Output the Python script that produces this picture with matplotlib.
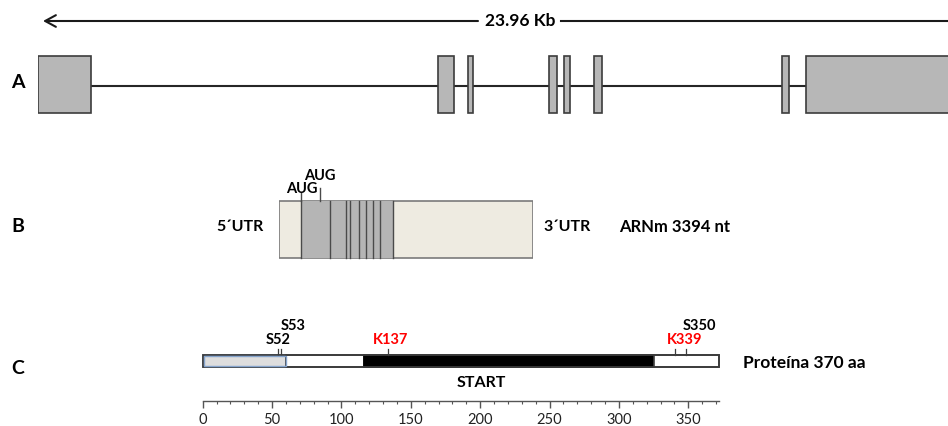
import matplotlib
matplotlib.use("Agg")
import matplotlib.pyplot as plt
from matplotlib.patches import Rectangle

plt.rcParams["font.family"] = ["Lato", "DejaVu Sans"]

W, H = 948, 426

# --- A: gene, exon starts / ends in kb ---
gene_len_kb = 23.96
exon_start = [0.00, 10.60, 11.40, 13.52, 13.92, 14.72, 19.71, 20.34]
exon_end = [1.40, 11.02, 11.51, 13.75, 14.10, 14.93, 19.88, 24.40]

# --- B: mRNA, positions in nt ---
mrna_len = 3394
cds_start, cds_end = 290, 1527
exon_bounds = [290, 681, 891, 949, 1069, 1162, 1260, 1349, 1527]
aug_pos = [290, 548]

# --- C: protein, positions in aa ---
prot_len = 370
prot_end = 372
segments = [(0, 60, "#dedede", "#7f9fca"), (60, 116, "white", "#404040"),
            (116, 325, "black", "black"), (325, 372, "white", "#404040")]
site_pos = [54.5, 56.5, 133.8, 340.4, 348.3]
site_names = ["S52", "S53", "K137", "K339", "S350"]
site_colors = ["black", "black", "red", "red", "black"]
site_label_x = [54.5, 65, 135.6, 347.6, 357.7]
site_label_row = [0, 1, 0, 0, 1]


def px_axes(left_px, right_px):
    """Axes covering full height (pixel y) and a px range in x."""
    ax = fig.add_axes([left_px / W, 0, (right_px - left_px) / W, 1])
    ax.set_ylim(H, 0)
    ax.axis("off")
    return ax


fig = plt.figure(figsize=(W / 100, H / 100), dpi=100)
bg = px_axes(0, W)
bg.set_xlim(0, W)

# panel letters
for lab, y in zip(["A", "B", "C"], [83, 226, 369]):
    bg.text(18, y, lab, fontsize=14, fontweight="bold", ha="center", va="center")

# ---------------- A ----------------
kb_px = 37.76
ga = px_axes(38, W)
ga.set_xlim(0, (W - 38) / kb_px)
ga.plot([0, exon_end[-1]], [85.5, 85.5], color="#262626", lw=1.5, zorder=1)
for s, e in zip(exon_start, exon_end):
    ga.add_patch(Rectangle((s, 56), e - s, 57.3, facecolor="#b7b7b7",
                           edgecolor="#3c3c3c", lw=1.2, zorder=2))

# 23.96 Kb arrow with label in gap
arrow_y = 21
lab_x = (520 - 38) / kb_px
ga.text(lab_x, arrow_y, f"{gene_len_kb:.2f} Kb", fontsize=12.5, fontweight="bold",
        ha="center", va="center")
ga.annotate("", xy=((43 - 38) / kb_px, arrow_y), xytext=((478 - 38) / kb_px, arrow_y),
            arrowprops=dict(arrowstyle="->, head_length=0.55, head_width=0.3",
                            lw=1.5, color="#1a1a1a", mutation_scale=14,
                            shrinkA=0, shrinkB=0))
ga.plot([(561 - 38) / kb_px, (W - 38) / kb_px + 1], [arrow_y, arrow_y],
        color="#1a1a1a", lw=1.5)

# ---------------- B ----------------
mb = px_axes(279, 533.3)
mb.set_xlim(0, mrna_len)
box_top, box_bot = 200.7, 258.3
mb.add_patch(Rectangle((0, box_top), mrna_len, box_bot - box_top,
                       facecolor="#eeebe1", edgecolor="#7a7a7a", lw=1.2, zorder=1))
mb.add_patch(Rectangle((cds_start, box_top), cds_end - cds_start, box_bot - box_top,
                       facecolor="#b5b5b5", edgecolor="none", zorder=2))
for b in exon_bounds:
    mb.plot([b, b], [box_top, box_bot], color="#4a4a4a", lw=1.0, zorder=3)
# AUG marks
mb.plot([aug_pos[0], aug_pos[0]], [192.5, box_top], color="#4a4a4a", lw=1.0)
mb.plot([aug_pos[1], aug_pos[1]], [188, box_top], color="#4a4a4a", lw=1.0)
mb.text(aug_pos[0] + 20, 189.3, "AUG", fontsize=10.5, fontweight="bold",
        ha="center", va="center")
mb.text(aug_pos[1], 176.3, "AUG", fontsize=10.5, fontweight="bold",
        ha="center", va="center")

bg.text(240, 227.3, "5\u00b4UTR", fontsize=11.5, fontweight="bold", ha="center", va="center")
bg.text(567, 227.3, "3\u00b4UTR", fontsize=11.5, fontweight="bold", ha="center", va="center")
bg.text(619.3, 227.3, f"ARNm {mrna_len} nt", fontsize=12, fontweight="bold",
        ha="left", va="center")

# ---------------- C ----------------
aa_px = 1.3874
pc = px_axes(202.7, 202.7 + prot_len * aa_px)
pc.set_xlim(0, prot_len)
bar_top, bar_bot = 355.2, 366.7
for s, e, fc, ec in segments:
    pc.add_patch(Rectangle((s, bar_top), e - s, bar_bot - bar_top, facecolor=fc,
                           edgecolor=ec, lw=1.2, clip_on=False, zorder=2))
pc.add_patch(Rectangle((0, bar_top), prot_end, bar_bot - bar_top, facecolor="none",
                       edgecolor="#3c3c3c", lw=1.3, clip_on=False, zorder=3))
# light-blue inner edge of the first segment, drawn over the outline
pc.add_patch(Rectangle((0.8, bar_top + 1), 59.2, bar_bot - bar_top - 2,
                       facecolor="none", edgecolor="#86a4cc", lw=1.0,
                       clip_on=False, zorder=4))
for p, n, c, lx, row in zip(site_pos, site_names, site_colors, site_label_x, site_label_row):
    pc.plot([p, p], [349, bar_top], color="#3c3c3c", lw=0.9, clip_on=False)
    pc.text(lx, 340 - row * 13.5, n, color=c, fontsize=10.5, fontweight="bold",
            ha="center", va="center", clip_on=False)
pc.text(200.6, 382.7, "START", fontsize=11.5, fontweight="bold", ha="center", va="center")
bg.text(742.7, 363, f"Proteína {prot_len} aa", fontsize=12.5, fontweight="bold",
        ha="left", va="center")

# scale axis
sc = fig.add_axes([202.7 / W, (H - 401) / H, prot_end * aa_px / W, 0.0001])
sc.set_xlim(0, prot_end)
sc.set_yticks([])
for side in ["top", "left", "right"]:
    sc.spines[side].set_visible(False)
sc.spines["bottom"].set_color("#555555")
sc.spines["bottom"].set_linewidth(1.0)
sc.set_xticks(range(0, 351, 50))
sc.set_xticks(range(0, 371, 10), minor=True)
sc.tick_params(axis="x", which="major", length=5, width=1, color="#555555",
               labelsize=10.5, labelcolor="#222222", pad=4)
sc.tick_params(axis="x", which="minor", length=2.5, width=0.8, color="#555555")
sc.patch.set_visible(False)

fig.savefig("out.png", dpi=100)
